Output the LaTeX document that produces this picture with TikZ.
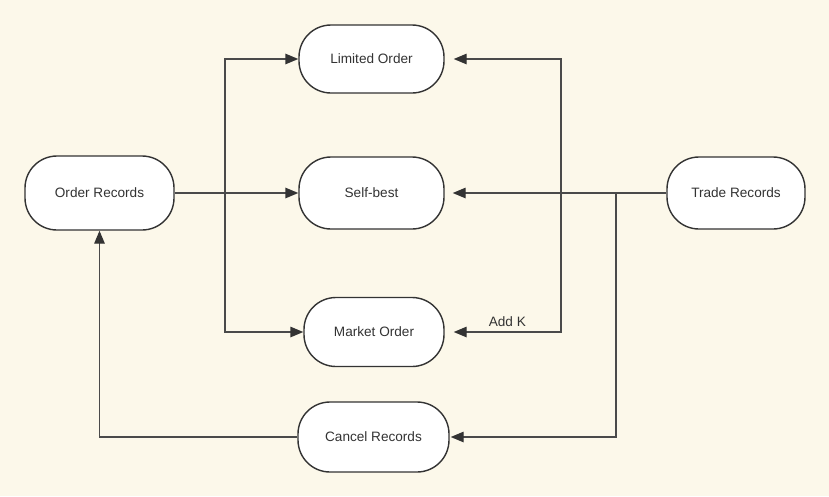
\documentclass[tikz,border=0pt]{standalone}
\usepackage{fontspec}
\setmainfont{Liberation Sans}
\usetikzlibrary{positioning}
\usetikzlibrary{arrows.meta}
\definecolor{bgcream}{HTML}{FCF8EA}
\definecolor{inkgray}{HTML}{333333}
\definecolor{linegray}{HTML}{4A4A4A}

\begin{document}
\begin{tikzpicture}[x=1pt,y=-1pt]
    \fill[bgcream] (0,0) rectangle (829,496);
    \begin{scope}[every node/.style={draw=inkgray,line width=1.4pt,fill=white,rounded corners=32pt,
        inner sep=0pt,text=inkgray,font=\fontsize{13.6}{15}\selectfont}]
        \node(order)[minimum width=149pt,minimum height=74pt] at (99.5,193) {Order Records};
        \node(limited)[minimum width=145pt,minimum height=68pt] at (371.5,59) {Limited Order};
        \node(self)[minimum width=145pt,minimum height=72pt] at (371.5,193) {Self-best};
        \node(market)[minimum width=140pt,minimum height=69pt] at (374,332) {Market Order};
        \node(cancel)[minimum width=151pt,minimum height=70pt] at (373.5,437) {Cancel Records};
        \node(trade)[minimum width=138pt,minimum height=72pt] at (736,193) {Trade Records};
    \end{scope}
    \coordinate (jl) at (225,193);
    \coordinate (jr) at (561,193);
    \coordinate (jc) at (616,193);
    %Lines
    \begin{scope}[>={Triangle[length=13pt,width=10.5pt,inkgray]}, draw=linegray, line width=1.4pt,
        every node/.style={text=inkgray,font=\fontsize{13.6}{15}\selectfont}]
        \draw[->] (order.east) -- (self.west);
        \draw[->] (jl) |- (limited.west);
        \draw[->] (jl) |- (market.west);
        \draw[->] (trade.west) -- ([xshift=8pt]self.east);
        \draw[->] (jr) |- ([xshift=9pt]limited.east);
        \draw[->] (jr) |- node[above=1pt,pos=0.75] {Add K} ([xshift=9pt]market.east);
        \draw[->] (jc) |- ([xshift=1pt]cancel.east);
        \draw[->] (cancel.west) -| (order.south);
    \end{scope}
\end{tikzpicture}
\end{document}
